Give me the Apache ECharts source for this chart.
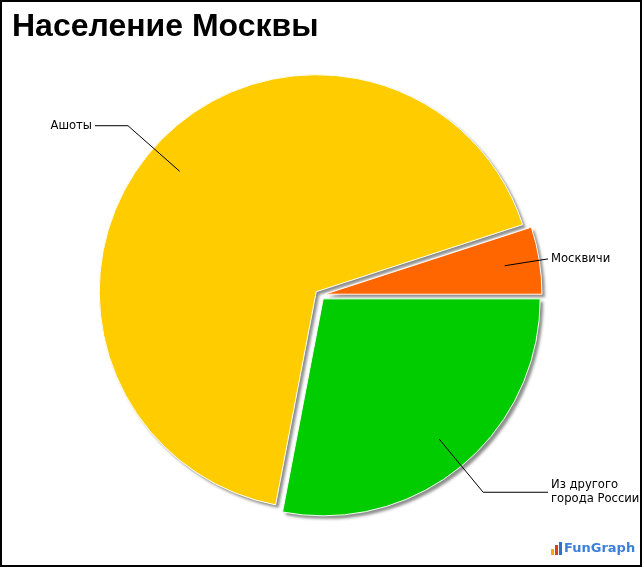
<!DOCTYPE html>
<html>
<head>
<meta charset="utf-8">
<script src="https://cdn.jsdelivr.net/npm/echarts@6/dist/echarts.min.js"></script>
<style>
html,body{margin:0;padding:0;background:#fff;}
#chart{width:642px;height:567px;}
</style>
</head>
<body>
<div id="chart"></div>
<script>
// Data
var titleText = 'Население Москвы';
var categories = ['Из другого\nгорода России', 'Ашоты', 'Москвичи'];
var values = [28, 67, 5];
var colors = ['#00CC00', '#FFCC00', '#FF6600'];

var CX = 320, CY = 295, R = 217, OFF = 5;
var R_IN = 182, R_ELBOW = 251;
var ALIGN_RIGHT = 548, ALIGN_LEFT = 95, LABEL_GAP = 3;

var total = values.reduce(function (a, b) { return a + b; }, 0);
function bisectorRad(i) {
  var cum = 0;
  for (var k = 0; k < i; k++) cum += values[k];
  var deg = -(cum + values[i] / 2) / total * 360; // startAngle 0, clockwise
  return deg * Math.PI / 180;
}

var labelFont = {fontFamily: '"DejaVu Sans", Verdana, sans-serif', fontSize: 11.6, lineHeight: 14, color: '#000'};

function pieBase(extra) {
  return Object.assign({
    type: 'pie',
    center: [CX, CY],
    radius: R,
    startAngle: 0,
    clockwise: true,
    emphasis: {disabled: true},
    label: {show: false},
    labelLine: {show: false}
  }, extra);
}

var chart = echarts.init(document.getElementById('chart'), null, {renderer: 'canvas'});
chart.setOption({
  animation: false,
  backgroundColor: '#fff',
  title: {
    text: titleText,
    left: 7, top: 6,
    textStyle: {fontFamily: 'Liberation Sans, Arial, sans-serif', fontWeight: 'bold', fontSize: 32, color: '#000'}
  },
  graphic: [
    {type: 'rect', shape: {x: 1, y: 1, width: 640, height: 565}, style: {fill: 'none', stroke: '#000', lineWidth: 2}, silent: true, z: 100},
    {type: 'rect', shape: {x: 551, y: 549, width: 3, height: 6}, style: {fill: '#F5A800'}},
    {type: 'rect', shape: {x: 555, y: 545, width: 3, height: 10}, style: {fill: '#E53A1A'}},
    {type: 'rect', shape: {x: 559, y: 542, width: 3, height: 13}, style: {fill: '#2E6FD0'}},
    {type: 'text', left: 564, top: 542, style: {text: 'FunGraph', fill: '#3D7FD9', font: 'bold 13px "DejaVu Sans", sans-serif'}}
  ],
  series: [
    // exploded slices: shadow layer
    pieBase({
      z: 1, silent: true,
      selectedMode: 'multiple', selectedOffset: OFF,
      itemStyle: {borderWidth: 0, shadowColor: 'rgba(0,0,0,0.45)', shadowBlur: 3, shadowOffsetX: 3, shadowOffsetY: 3},
      data: categories.map(function (c, i) {
        return {name: c, value: values[i], selected: true, itemStyle: {color: colors[i]}};
      })
    }),
    // exploded slices: fill with thin white edge
    pieBase({
      z: 2,
      selectedMode: 'multiple', selectedOffset: OFF,
      itemStyle: {borderColor: '#fff', borderWidth: 1},
      data: categories.map(function (c, i) {
        return {name: c, value: values[i], selected: true, itemStyle: {color: colors[i]}};
      })
    }),
    // transparent overlay carrying labels and leader lines
    pieBase({
      z: 5, silent: true,
      selectedMode: false,
      avoidLabelOverlap: false,
      itemStyle: {color: 'rgba(0,0,0,0)', borderWidth: 0},
      label: Object.assign({show: true, position: 'outside'}, labelFont),
      labelLine: {show: true, length: 30, length2: 30, lineStyle: {color: '#000', width: 1}},
      labelLayout: function (p) {
        var i = p.dataIndex;
        var a = bisectorRad(i);
        var dx = Math.cos(a), dy = -Math.sin(a);
        var ox = CX + OFF * dx, oy = CY + OFF * dy;
        var sx = ox + R_IN * dx, sy = oy + R_IN * dy;
        var right = dx >= 0;
        var endX = right ? ALIGN_RIGHT : ALIGN_LEFT;
        var re = R_ELBOW;
        var ex = ox + re * dx;
        if (right && ex > endX - 1) re = (endX - 1 - ox) / dx;
        if (!right && ex < endX + 1) re = (endX + 1 - ox) / dx;
        ex = ox + re * dx;
        var ey = oy + re * dy;
        return {
          x: right ? endX + LABEL_GAP : endX - LABEL_GAP,
          y: ey,
          align: right ? 'left' : 'right',
          verticalAlign: 'middle',
          labelLinePoints: [[sx, sy], [ex, ey], [endX, ey]]
        };
      },
      data: categories.map(function (c, i) {
        return {name: c, value: values[i]};
      })
    })
  ]
});
</script>
</body>
</html>
